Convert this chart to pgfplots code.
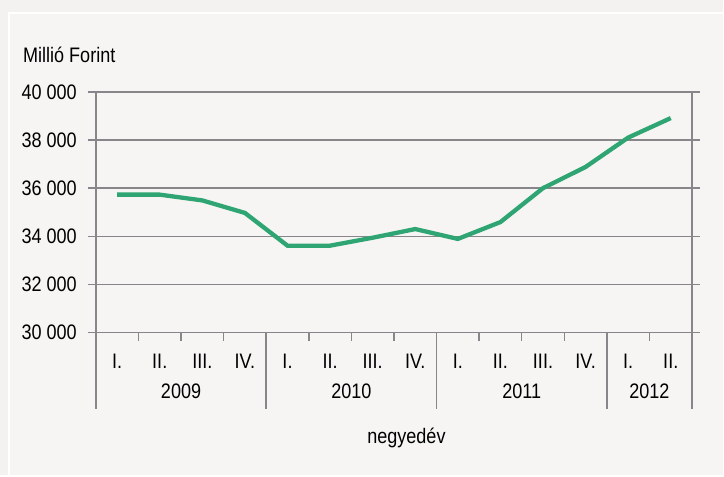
\documentclass[border=0pt]{standalone}
\usepackage{fontspec}
\setmainfont{Liberation Sans}[FakeStretch=0.86]
\usepackage{pgfplots}
\pgfplotsset{compat=1.18}
\definecolor{bgout}{HTML}{F3F2F0}
\definecolor{bgin}{HTML}{F6F5F3}
\definecolor{axgray}{HTML}{87878B}
\definecolor{lgreen}{HTML}{2EA572}
\begin{document}
\fontsize{21}{25}\selectfont
\begin{tikzpicture}[x=1pt,y=1pt]
\fill[bgout] (0,0) rectangle (724,476);
\fill[bgin] (9,0) rectangle (724,463);
\draw[white, line width=2pt] (9,0) -- (9,463) -- (724,463);
\node[anchor=base west, inner sep=0pt] at (23,413) {Millió Forint};
\node[anchor=base, inner sep=0pt] at (407,32) {negyedév};
\begin{axis}[at={(96pt,143pt)}, anchor=south west, scale only axis,
  width=597pt, height=241pt,
  xmin=0, xmax=14, ymin=30000, ymax=40000,
  clip=false,
  scaled y ticks=false,
  /pgf/number format/assume math mode=true,
  axis line style={axgray, line width=1.5pt},
  ytick={30000,32000,34000,36000,38000,40000},
  yticklabels={30 000,32 000,34 000,36 000,38 000,40 000},
  ymajorgrids, grid style={axgray, line width=1.5pt},
  ytick style={axgray, line width=1.5pt},
  major tick length=8pt, tick align=outside,
  xtick={0.5,1.5,...,13.5},
  xticklabels={I.,II.,III.,IV.,I.,II.,III.,IV.,I.,II.,III.,IV.,I.,II.},
  xtick style={draw=none},
  xticklabel style={anchor=base, yshift=-28pt},
  yticklabel style={anchor=east, xshift=-4pt},
]
\addplot[lgreen, line width=4.3pt, mark=none] coordinates {
(0.5,35730) (1.5,35730) (2.5,35490) (3.5,34970)
(4.5,33610) (5.5,33610) (6.5,33940) (7.5,34300)
(8.5,33890) (9.5,34590) (10.5,36000) (11.5,36880)
(12.5,38100) (13.5,38910)};
\pgfplotsinvokeforeach{1,2,3,5,6,7,9,10,11,13}{
  \draw[axgray, line width=1.5pt] (axis cs:#1,30000) -- ++(0pt,-8pt);
}
\pgfplotsinvokeforeach{0,4,8,12,14}{
  \draw[axgray, line width=1.5pt] (axis cs:#1,30000) -- ++(0pt,-77pt);
}
\node[anchor=base, inner sep=0pt] at (axis cs:2,30000) [yshift=-66pt] {2009};
\node[anchor=base, inner sep=0pt] at (axis cs:6,30000) [yshift=-66pt] {2010};
\node[anchor=base, inner sep=0pt] at (axis cs:10,30000) [yshift=-66pt] {2011};
\node[anchor=base, inner sep=0pt] at (axis cs:13,30000) [yshift=-66pt] {2012};
\end{axis}
\end{tikzpicture}
\end{document}
